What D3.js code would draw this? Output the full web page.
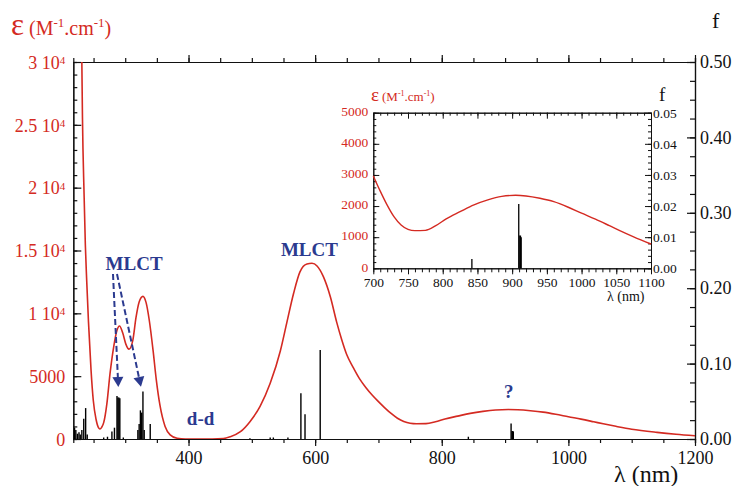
<!DOCTYPE html>
<html><head><meta charset="utf-8">
<script src="https://cdn.jsdelivr.net/npm/d3@7"></script>
<style>body{margin:0;background:#fff}svg{display:block}svg text{font-family:"Liberation Serif","DejaVu Serif",serif !important}</style>
</head><body><svg id="c" width="733" height="486"></svg>
<script>
// ---- data ----
const curveNm  = [226,230,231.5,232.5,235,237,239,242,246,249.5,254,258,260,263,266,271,276,282,287,291,296,301,306,312,317,322,328,333,338,344,349,355,363,371,382,395,420,455,466,482,497,513,529,545,555,566,576,587,595,603,613,624,634,642,650,660,670,680,690,700,710,720,730,740,750,760,775,790,805,825,845,865,885,905,920,940,960,980,1000,1020,1040,1055,1075,1100,1140,1170,1200];
const curveEps = [48000,36000,30000,25500,19500,15500,12800,9300,5500,3100,1550,880,800,950,1300,2800,5200,7400,8650,8990,8450,7550,7150,7850,9650,10900,11350,10850,9450,7050,4750,2650,1000,330,60,0,0,40,180,580,1380,2600,4430,7000,9200,11600,13300,13930,13980,13770,12920,11320,9300,7900,6700,5700,4800,4100,3500,2970,2480,2030,1650,1390,1250,1210,1220,1370,1590,1820,2040,2200,2310,2345,2325,2250,2140,1970,1770,1580,1370,1210,1010,780,530,380,260];
const barNm = [220,222,224.5,227,229,231.5,234.5,237.5,240,266,272,279,283,287,288.5,290,291.5,297,320,322,324,326,328,330,339.5,497,529,534,557,577.5,584,608,842,909.5,911,912,913];
const barF  = [0.015,0.012,0.007,0.009,0.006,0.012,0.027,0.041,0.006,0.002,0.003,0.010,0.015,0.057,0.055,0.055,0.054,0.002,0.012,0.020,0.038,0.035,0.063,0.012,0.020,0.001,0.002,0.002,0.002,0.0606,0.0327,0.118,0.003,0.0207,0.0105,0.0105,0.010];
const leftTicks = [0,5000,10000,15000,20000,25000,30000];
const leftTickMant = ["0","5000","1 10","1.5 10","2 10","2.5 10","3 10"];
const leftTickExp  = ["","","4","4","4","4","4"];
const bottomTicks = [400,600,800,1000,1200];
const rightTicks = [0,0.1,0.2,0.3,0.4,0.5];
const insetXTicks = [700,750,800,850,900,950,1000,1050,1100];
const insetYTicks = [0,1000,2000,3000,4000,5000];
const insetFTicks = [0,0.01,0.02,0.03,0.04,0.05];
const annotations = [{t:"MLCT",nm:314,e:13450},{t:"MLCT",nm:591,e:14560},{t:"d-d",nm:419,e:1075},{t:"?",nm:906,e:3250}];

const RED="#d42a22", BLUE="#2b3a8f", FONT='"Liberation Serif","DejaVu Serif",serif';
const svg=d3.select("#c");
const x=d3.scaleLinear().domain([218,1200]).range([73.3,695]);
const y=d3.scaleLinear().domain([0,30000]).range([439,62]);
const yf=d3.scaleLinear().domain([0,0.5]).range([439,62]);
const curve=curveNm.map((d,i)=>({nm:d,e:curveEps[i]}));
const bars=barNm.map((d,i)=>({nm:d,f:barF[i]}));

svg.append("clipPath").attr("id","mc").append("rect").attr("x",73.3).attr("y",62).attr("width",621.7).attr("height",377);

function styleAxis(g,col){g.attr("font-family",FONT);g.selectAll("path,line").attr("stroke","#111").attr("stroke-width",1.2);g.selectAll("text").attr("fill",col).style("font-family",FONT);}
const range=(a,b,s)=>d3.range(a,b+s/2,s);

// bottom
let g=svg.append("g").attr("transform","translate(0,439)").call(d3.axisBottom(x).tickValues(range(250,1200,50)).tickSize(4).tickFormat(""));styleAxis(g);
g=svg.append("g").attr("transform","translate(0,439)").call(d3.axisBottom(x).tickValues(bottomTicks).tickSize(7).tickPadding(5).tickSizeOuter(0).tickFormat(d3.format("d")));styleAxis(g,"#111");g.selectAll("text").attr("font-size",18);
// top
g=svg.append("g").attr("transform","translate(0,62)").call(d3.axisTop(x).tickValues(range(250,1200,50)).tickSize(4).tickFormat(""));styleAxis(g);
g=svg.append("g").attr("transform","translate(0,62)").call(d3.axisTop(x).tickValues(bottomTicks).tickSize(7).tickFormat("").tickSizeOuter(0));styleAxis(g);
// left
g=svg.append("g").attr("transform","translate(73.3,0)").call(d3.axisLeft(y).tickValues(range(0,30000,1000)).tickSizeInner(-4).tickSizeOuter(0).tickFormat(""));styleAxis(g);
g=svg.append("g").attr("transform","translate(73.3,0)").call(d3.axisLeft(y).tickValues(leftTicks).tickSizeInner(-8).tickSizeOuter(0).tickPadding(9).tickFormat(""));styleAxis(g);
g.selectAll(".tick").each(function(d,i){const t=d3.select(this).append("text").attr("x",-8).attr("dy","0.35em").attr("text-anchor","end").attr("fill",RED).attr("font-size",18).style("font-family",FONT);t.append("tspan").text(leftTickMant[i]);if(leftTickExp[i])t.append("tspan").attr("dy","-0.45em").attr("font-size",11).text(leftTickExp[i]);});
// right
g=svg.append("g").attr("transform","translate(695,0)").call(d3.axisRight(yf).tickValues(range(0,0.5,0.025)).tickSizeInner(-5).tickSizeOuter(0).tickFormat(""));styleAxis(g);
g=svg.append("g").attr("transform","translate(695,0)").call(d3.axisRight(yf).tickValues(rightTicks).tickSizeInner(-8).tickSizeOuter(0).tickPadding(5).tickFormat(d3.format(".2f")));styleAxis(g,"#111");g.selectAll("text").attr("font-size",18);

// bars
svg.append("g").selectAll("line").data(bars).join("line").attr("x1",d=>x(d.nm)).attr("x2",d=>x(d.nm)).attr("y1",yf(0)).attr("y2",d=>yf(d.f)).attr("stroke","#000").attr("stroke-width",1.4);
// curve
svg.append("path").datum(curve).attr("clip-path","url(#mc)").attr("fill","none").attr("stroke",RED).attr("stroke-width",1.6)
 .attr("d",d3.line().x(d=>x(d.nm)).y(d=>y(d.e)).curve(d3.curveMonotoneX));

// axis titles
let t=svg.append("text").attr("x",11).attr("y",35).attr("fill",RED);
t.append("tspan").attr("font-size",31).text("ε");
t.append("tspan").attr("font-size",20).attr("dx",5).text("(M");
t.append("tspan").attr("font-size",13).attr("dy",-8).text("-1");
t.append("tspan").attr("font-size",20).attr("dy",8).text(".cm");
t.append("tspan").attr("font-size",13).attr("dy",-8).text("-1");
t.append("tspan").attr("font-size",20).attr("dy",8).text(")");
svg.append("text").attr("x",712).attr("y",28).attr("font-size",22).attr("fill","#111").text("f");
svg.append("text").attr("x",614).attr("y",482).attr("font-size",24).attr("fill","#111").text("λ (nm)");

// annotations
svg.append("g").selectAll("text").data(annotations).join("text").attr("x",d=>x(d.nm)).attr("y",d=>y(d.e)).attr("text-anchor","middle").attr("font-weight","bold").attr("font-size",19).attr("fill",BLUE).text(d=>d.t);
const arrows=[{x1:113,y1:274,x2:118,y2:380},{x1:117,y1:274,x2:139.5,y2:380}];
svg.append("g").selectAll("line").data(arrows).join("line").attr("x1",d=>d.x1).attr("y1",d=>d.y1).attr("x2",d=>d.x2).attr("y2",d=>d.y2).attr("stroke",BLUE).attr("stroke-width",2).attr("stroke-dasharray","6,3");
svg.append("g").selectAll("path").data(arrows).join("path").attr("fill",BLUE).attr("d",d=>{const a=Math.atan2(d.y2-d.y1,d.x2-d.x1);const L=10,W=5.5;const tx=d.x2+Math.cos(a)*7,ty=d.y2+Math.sin(a)*7;const bx=tx-Math.cos(a)*L,by=ty-Math.sin(a)*L;return `M${tx},${ty}L${bx-Math.sin(a)*W},${by+Math.cos(a)*W}L${bx+Math.sin(a)*W},${by-Math.cos(a)*W}Z`;});

// ---- inset ----
const xi=d3.scaleLinear().domain([700,1100]).range([373.3,651]);
const yi=d3.scaleLinear().domain([0,5000]).range([268.3,112.7]);
const fi=d3.scaleLinear().domain([0,0.05]).range([268.3,112.7]);
svg.append("rect").attr("x",373.3).attr("y",112.7).attr("width",277.7).attr("height",155.6).attr("fill","#fff");
function sa(g,col){g.attr("font-family",FONT);g.selectAll("path,line").attr("stroke","#111").attr("stroke-width",1);g.selectAll("text").attr("fill",col).attr("font-size",13.5).style("font-family",FONT);}
g=svg.append("g").attr("transform","translate(0,268.3)").call(d3.axisBottom(xi).tickValues(range(700,1100,10)).tickSize(4).tickFormat("").tickSizeOuter(0));sa(g);
g=svg.append("g").attr("transform","translate(0,268.3)").call(d3.axisBottom(xi).tickValues(insetXTicks).tickSize(6).tickPadding(3).tickSizeOuter(0).tickFormat(d3.format("d")));sa(g,"#111");
g=svg.append("g").attr("transform","translate(0,112.7)").call(d3.axisTop(xi).tickValues(range(700,1100,10)).tickSizeInner(-3).tickFormat("").tickSizeOuter(0));sa(g);
g=svg.append("g").attr("transform","translate(0,112.7)").call(d3.axisTop(xi).tickValues(insetXTicks).tickSizeInner(-6).tickFormat("").tickSizeOuter(0));sa(g);
g=svg.append("g").attr("transform","translate(373.3,0)").call(d3.axisLeft(yi).tickValues(range(0,5000,200)).tickSizeInner(-3).tickFormat("").tickSizeOuter(0));sa(g);
g=svg.append("g").attr("transform","translate(373.3,0)").call(d3.axisLeft(yi).tickValues(insetYTicks).tickSizeInner(-6).tickPadding(5).tickSizeOuter(0).tickFormat(d3.format("d")));sa(g,RED);
g.selectAll(".tick text").attr("dy","0.2em");
g=svg.append("g").attr("transform","translate(651,0)").call(d3.axisRight(fi).tickValues(range(0,0.05,0.002)).tickSizeInner(-3).tickFormat("").tickSizeOuter(0));sa(g);
g=svg.append("g").attr("transform","translate(651,0)").call(d3.axisRight(fi).tickValues(insetFTicks).tickSizeInner(-6).tickPadding(2).tickSizeOuter(0).tickFormat(d3.format(".2f")));sa(g,"#111");
svg.append("g").selectAll("line").data(bars.filter(d=>d.nm>=700&&d.nm<=1100)).join("line").attr("x1",d=>xi(d.nm)).attr("x2",d=>xi(d.nm)).attr("y1",fi(0)).attr("y2",d=>fi(d.f)).attr("stroke","#000").attr("stroke-width",1.3);
svg.append("path").datum(curve.filter(d=>d.nm>=700&&d.nm<=1100)).attr("fill","none").attr("stroke",RED).attr("stroke-width",1.4)
 .attr("d",d3.line().x(d=>xi(d.nm)).y(d=>yi(d.e)).curve(d3.curveMonotoneX));
t=svg.append("text").attr("x",371).attr("y",101).attr("fill",RED);
t.append("tspan").attr("font-size",19).text("ε");
t.append("tspan").attr("font-size",13).attr("dx",3).text("(M");
t.append("tspan").attr("font-size",8).attr("dy",-5).text("-1");
t.append("tspan").attr("font-size",13).attr("dy",5).text(".cm");
t.append("tspan").attr("font-size",8).attr("dy",-5).text("-1");
t.append("tspan").attr("font-size",13).attr("dy",5).text(")");
svg.append("text").attr("x",659).attr("y",101).attr("font-size",19).attr("fill","#111").text("f");
svg.append("text").attr("x",607).attr("y",301).attr("font-size",14).attr("fill","#111").text("λ (nm)");
</script></body></html>
